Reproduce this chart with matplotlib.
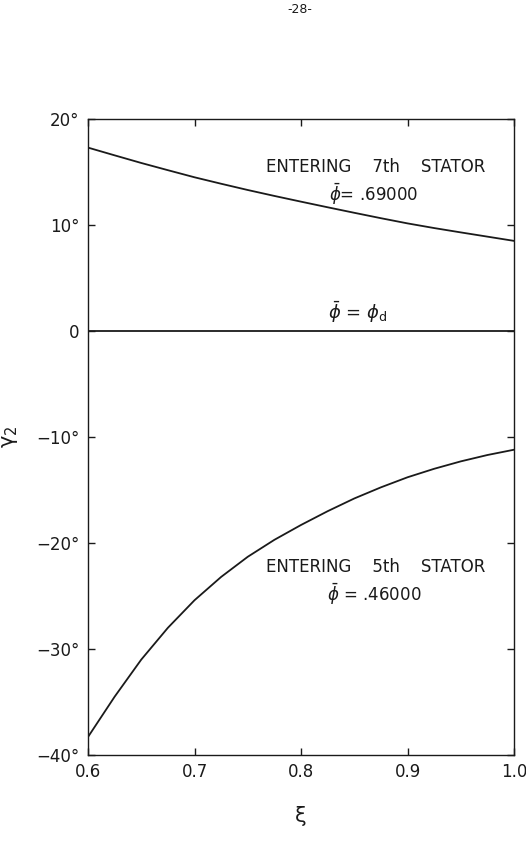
import matplotlib
matplotlib.use("Agg")
import matplotlib.pyplot as plt

# Data
xi = [0.6, 0.625, 0.65, 0.675, 0.7, 0.725, 0.75, 0.775, 0.8,
      0.825, 0.85, 0.875, 0.9, 0.925, 0.95, 0.975, 1.0]
gamma_7th = [17.3, 16.57, 15.85, 15.17, 14.5, 13.89, 13.3, 12.74, 12.2,
             11.67, 11.15, 10.64, 10.15, 9.71, 9.3, 8.9, 8.5]
gamma_5th = [-38.3, -34.5, -31.0, -28.0, -25.4, -23.2, -21.3, -19.7, -18.3,
             -17.0, -15.8, -14.75, -13.8, -13.0, -12.3, -11.7, -11.2]
xi_design = [0.6, 1.0]
gamma_design = [0.0, 0.0]

xticks = [0.6, 0.7, 0.8, 0.9, 1.0]
xticklabels = ["0.6", "0.7", "0.8", "0.9", "1.0"]
yticks = [-40, -30, -20, -10, 0, 10, 20]
yticklabels = ["\u221240\u00b0", "\u221230\u00b0", "\u221220\u00b0", "\u221210\u00b0", "0", "10\u00b0", "20\u00b0"]

plt.rcParams["font.family"] = ["DejaVu Sans"]

fig = plt.figure(figsize=(5.26, 8.56), dpi=100)
ax = fig.add_axes([0.1673, 0.118, 0.810, 0.743])

lc = "#1a1a1a"
ax.plot(xi, gamma_7th, color=lc, lw=1.3)
ax.plot(xi, gamma_5th, color=lc, lw=1.3)
ax.plot(xi_design, gamma_design, color=lc, lw=1.3)

ax.set_xlim(0.6, 1.0)
ax.set_ylim(-40, 20)
ax.set_xticks(xticks)
ax.set_xticklabels(xticklabels)
ax.set_yticks(yticks)
ax.set_yticklabels(yticklabels)
ax.tick_params(direction="in", length=5, width=1, top=True, right=True,
               labelsize=12, colors=lc, pad=6)
for s in ax.spines.values():
    s.set_linewidth(1.0)
    s.set_color(lc)

ax.set_xlabel("\u03be", fontsize=15, labelpad=18, color=lc)
ax.set_ylabel("\u03b3$_2$", fontsize=15, labelpad=12, color=lc)

fs = 12
ax.text(0.870, 15.5, "ENTERING    7th    STATOR", ha="center", va="center", fontsize=fs, color=lc)
ax.text(0.868, 12.9, "$\\bar{\\phi}$= .69000", ha="center", va="center", fontsize=fs, color=lc)
ax.text(0.853, 1.8, "$\\bar{\\phi}$ = $\\phi_\\mathrm{d}$", ha="center", va="center", fontsize=fs + 1, color=lc)
ax.text(0.870, -22.3, "ENTERING    5th    STATOR", ha="center", va="center", fontsize=fs, color=lc)
ax.text(0.869, -24.8, "$\\bar{\\phi}$ = .46000", ha="center", va="center", fontsize=fs, color=lc)

fig.text(0.57, 0.989, "-28-", ha="center", va="center", fontsize=9, color=lc)

fig.savefig("out.png", dpi=100, facecolor="white")
